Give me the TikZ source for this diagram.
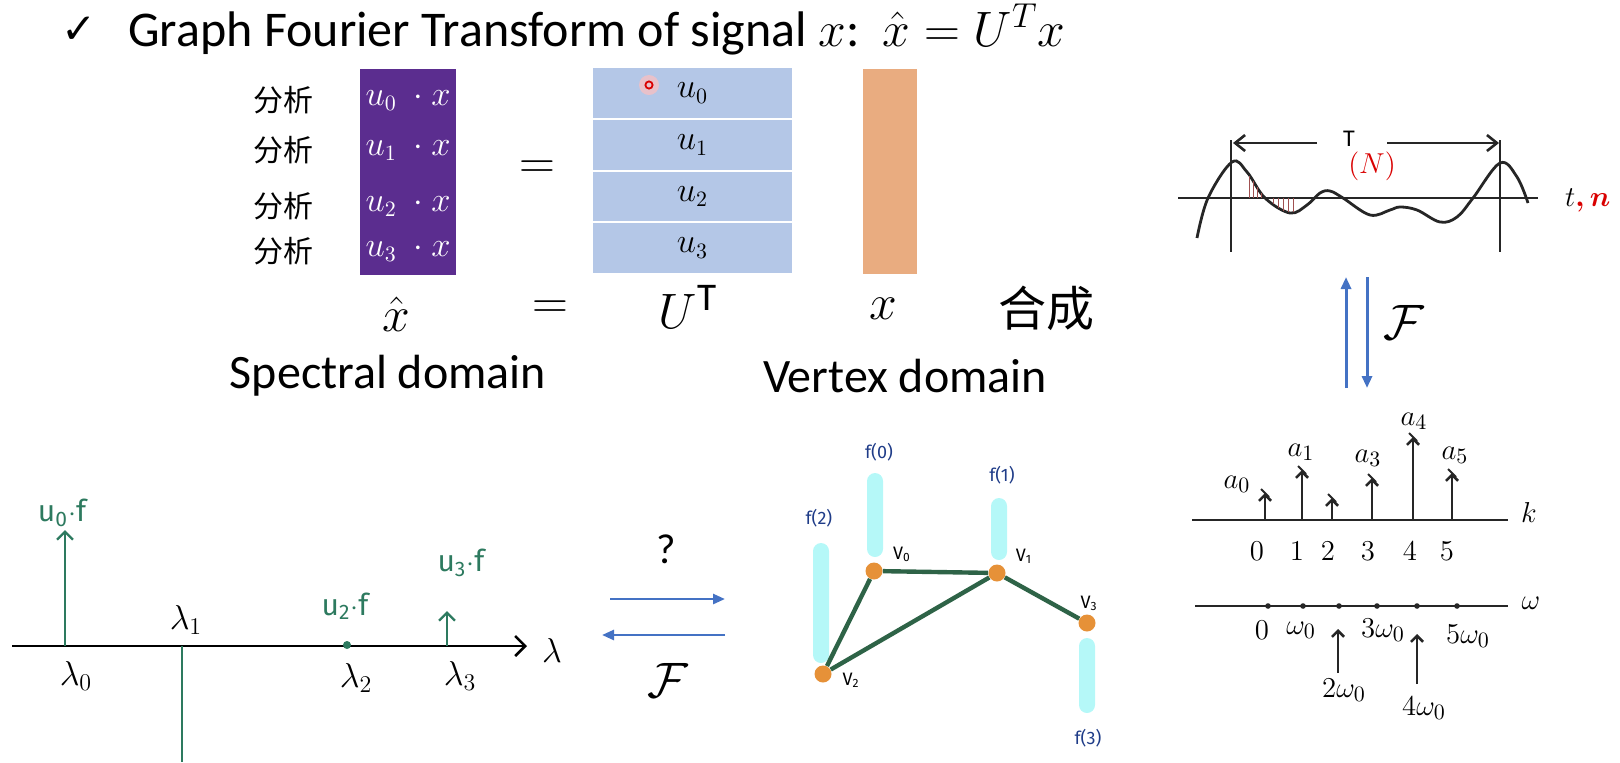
\documentclass[tikz,border=0pt]{standalone}
\usepackage{amsmath}
\usepackage{fontspec}
\setmainfont{Carlito}
\newfontfamily\cjk{Noto Sans CJK SC}
\newfontfamily\symfont{DejaVu Sans}
\newfontfamily\hand{Fira Sans}
\usepackage{xcolor}
\usetikzlibrary{arrows.meta,positioning}
\definecolor{xpurple}{HTML}{5B2D8F}
\definecolor{ublue}{HTML}{B4C7E7}
\definecolor{xorange}{HTML}{E9AC80}
\definecolor{fblue}{HTML}{4472C4}
\definecolor{ugreen}{HTML}{2D7A5F}
\definecolor{edgegreen}{HTML}{2E6347}
\definecolor{vorange}{HTML}{E69138}
\definecolor{barcyan}{HTML}{B5F8F8}
\definecolor{labnavy}{HTML}{1F3C88}
\definecolor{hatchred}{HTML}{A05050}

\begin{document}
\begin{tikzpicture}[x=0.5pt,y=-0.5pt,
      titletext/.style={font=\fontsize{25}{28}\selectfont, anchor=base west, inner sep=0pt},
      cjklab/.style={font=\cjk\fontsize{15}{18}\selectfont},
      bigsym/.style={font=\fontsize{28}{30}\selectfont, inner sep=0pt},
      domainlab/.style={font=\fontsize{24}{28}\selectfont},
      prow/.style={text=white, font=\fontsize{16}{18}\selectfont, inner sep=1pt},
      urow/.style={fill=ublue, draw=white, line width=1pt, inner sep=0pt,
                   minimum width=100.5pt, minimum height=25.9pt,
                   font=\fontsize{16}{18}\selectfont},
      wline/.style={line width=1.3pt, black!85},
      farr/.style={line width=1.5pt, fblue, -{Triangle[length=6pt,width=5pt]}},
      stem/.style={line width=1.3pt, black!85, -{Straight Barb[length=3pt,width=6pt]}},
      spec/.style={font=\fontsize{15}{18}\selectfont},
      gline/.style={line width=1.2pt, ugreen},
      glab/.style={font=\hand\fontsize{15}{17}\selectfont, text=ugreen},
      lam/.style={font=\fontsize{18}{20}\selectfont},
      vert/.style={circle, fill=vorange, inner sep=0pt, minimum size=8.5pt},
      edge/.style={line width=2.2pt, edgegreen},
      fbar/.style={fill=barcyan, rounded corners=4pt, minimum width=8pt, inner sep=0pt},
      flab/.style={font=\hand\fontsize{9}{10}\selectfont, text=labnavy},
      vlab/.style={font=\hand\fontsize{9}{10}\selectfont}
    ]
    \useasboundingbox (0,0) rectangle (1620,762);

    % Title
    \node[font=\symfont\fontsize{21}{24}\selectfont] (check) at (79,30) {✓};
    \node[titletext] (title) at (128,46) {Graph Fourier Transform of signal $x$:\, $\hat{x}=U^{T}x$};

    % Matrix product
    \node[fill=xpurple, minimum width=48pt, minimum height=103pt, inner sep=0pt] (xhatbox) at (408,172) {};
    \foreach \i/\yy in {0/100,1/150,2/206,3/251}{
      \node[cjklab] (ana\i) at (283,\yy) {分析};
      \node[prow] (p\i) at (408,\yy) {$u_{\i}\;\cdot x$};
    }
    \node[bigsym] (eqtop) at (537,170) {$=$};
    \foreach \i/\yy in {0/93,1/145,2/196.5,3/248}
      \node[urow] (u\i) at (692.5,\yy) {$u_{\i}$};
    \node[fill=xorange, minimum width=27pt, minimum height=102.5pt, inner sep=0pt] (xbox) at (890,171.5) {};

    % laser pointer
    \fill[red!25, opacity=0.7] (649,85) circle[radius=5pt];
    \draw[red!85!black, line width=0.9pt] (649,85) circle[radius=1.8pt];

    % Labels under the matrices
    \node[bigsym] (xhat) at (396,314) {$\hat{x}$};
    \node[bigsym] (eqbot) at (550,310) {$=$};
    \node[bigsym] (ut) at (688,307) {$U^{\mathrm{T}}$};
    \node[bigsym] (xsig) at (883,309) {$x$};
    \node[font=\cjk\fontsize{24}{28}\selectfont] (synth) at (1046,308) {合成};
    \node[domainlab] (spectral) at (388,376) {Spectral domain};
    \node[domainlab] (vertex) at (905,376) {Vertex domain};

    % Periodic signal
    \draw[wline] (1178,198) -- (1538,198);
    \draw[wline] (1231,140) -- (1231,252);
    \draw[wline] (1500,140) -- (1500,252);
    \coordinate (tl) at (1233,143);
    \coordinate (tr) at (1499,143);
    \draw[wline, -{Straight Barb[length=5pt,width=8pt]}] (1317,143) -- (tl);
    \draw[wline, -{Straight Barb[length=5pt,width=8pt]}] (1387,143) -- (tr);
    \node[font=\fontsize{12}{14}\selectfont] (per) at (1349,139) {T};
    \node[text=red!85!black, font=\fontsize{15}{16}\selectfont] (pern) at (1372,166) {$(N)$};
    \draw[wline, line width=1.4pt] plot[smooth, tension=0.6] coordinates {
      (1197,238) (1208,198) (1232,162) (1247,172) (1265,198) (1290,213)
      (1307,205) (1320,193) (1330,191) (1343,198) (1370,215) (1390,210)
      (1400,207) (1417,210) (1440,222) (1457,217) (1473,198) (1500,163)
      (1517,177) (1528,203)};
    \foreach \hx/\hy in {1249/176,1253/181,1257/187,1261/193,1273/204,1278/208,1283/211,1288/212,1293/212}
      \draw[hatchred, line width=0.4pt] (\hx,198) -- (\hx,\hy);
    \node[anchor=west, font=\fontsize{15}{18}\selectfont] (tn) at (1558,200) {$t${\color{red!85!black}$\boldsymbol{,n}$}};

    % Fourier arrows (right)
    \coordinate (fu0) at (1346,388);
    \coordinate (fu1) at (1346,277);
    \coordinate (fd0) at (1367,277);
    \coordinate (fd1) at (1367,388);
    \draw[farr] (fu0) -- (fu1);
    \draw[farr] (fd0) -- (fd1);
    \node[bigsym] (ftr) at (1404,322) {$\mathcal{F}$};

    % Line spectrum
    \draw[wline] (1192,520) -- (1508,520);
    \node[spec] (kax) at (1529,512) {$k$};
    \foreach \i/\sx/\st in {0/1265/493,1/1302/470,2/1332/498,3/1372/478,4/1413/437,5/1452/473}{
      \draw[stem] (\sx,520) -- (\sx,\st);
      \draw[line width=1pt, black!85] (\sx-4,\st-4) -- (\sx+4,\st+4);
    }
    \node[spec] (a0) at (1237,484) {$a_0$};
    \node[spec] (a1) at (1301,452) {$a_1$};
    \node[spec] (a3) at (1368,458) {$a_3$};
    \node[spec] (a4) at (1414,421) {$a_4$};
    \node[spec] (a5) at (1455,455) {$a_5$};
    \foreach \i/\nx in {0/1257,1/1297,2/1328,3/1368,4/1410,5/1447}
      \node[spec] (k\i) at (\nx,551) {$\i$};

    % Frequency axis
    \draw[wline] (1195,606) -- (1508,606);
    \foreach \dx in {1268,1303,1339,1377,1417,1457}
      \fill[black!85] (\dx,606) circle[radius=1.4pt];
    \node[spec] (wax) at (1531,603) {$\omega$};
    \node[spec] (w0) at (1262,630) {$0$};
    \node[spec] (w1) at (1301,630) {$\omega_0$};
    \node[spec] (w3) at (1383,630) {$3\omega_0$};
    \node[spec] (w5) at (1468,636) {$5\omega_0$};
    \node[spec] (w2) at (1344,690) {$2\omega_0$};
    \node[spec] (w4) at (1424,708) {$4\omega_0$};
    \coordinate (p2a) at (1338,673);
    \coordinate (p2b) at (1338,629);
    \coordinate (p4a) at (1417,684);
    \coordinate (p4b) at (1417,634);
    \draw[stem] (p2a) -- (p2b);
    \draw[stem] (p4a) -- (p4b);

    % Graph spectrum
    \coordinate (lamstart) at (12,646);
    \coordinate (lamend) at (527,646);
    \draw[line width=1.3pt, -{Straight Barb[length=5pt,width=10pt]}] (lamstart) -- (lamend);
    \node[lam] (lamax) at (552,650) {$\lambda$};
    \draw[gline, -{Straight Barb[length=4pt,width=8pt]}] (65,646) -- (65,530);
    \draw[gline] (182,646) -- (182,762);
    \fill[ugreen] (347,645) circle[radius=2pt];
    \draw[gline, -{Straight Barb[length=4pt,width=8pt]}] (447,646) -- (447,611);
    \node[glab] (c0) at (62,513) {u\textsubscript{0}$\cdot$f};
    \node[glab] (c2) at (345,606) {u\textsubscript{2}$\cdot$f};
    \node[glab] (c3) at (461,563) {u\textsubscript{3}$\cdot$f};
    \node[lam] (l0) at (76,676) {$\lambda_0$};
    \node[lam] (l1) at (186,620) {$\lambda_1$};
    \node[lam] (l2) at (356,678) {$\lambda_2$};
    \node[lam] (l3) at (460,676) {$\lambda_3$};

    % Transform arrows (middle)
    \node[font=\fontsize{21}{24}\selectfont] (quest) at (666,549) {?};
    \coordinate (ra0) at (610,599);
    \coordinate (ra1) at (725,599);
    \coordinate (la0) at (725,635);
    \coordinate (la1) at (602,635);
    \draw[farr, line width=1.3pt] (ra0) -- (ra1);
    \draw[farr, line width=1.3pt] (la0) -- (la1);
    \node[bigsym] (fmid) at (668,680) {$\mathcal{F}$};

    % Signal on graph
    \node[fbar, minimum height=42pt] (b0) at (875,515) {};
    \node[fbar, minimum height=31pt] (b1) at (999,529) {};
    \node[fbar, minimum height=60pt] (b2) at (821,603) {};
    \node[fbar, minimum height=37.5pt] (b3) at (1087,675.5) {};
    \node[vert] (v0) at (874,571) {};
    \node[vert] (v1) at (997,573) {};
    \node[vert] (v2) at (823,674) {};
    \node[vert] (v3) at (1087,623) {};
    \draw[edge] (v0) -- (v1);
    \draw[edge] (v0) -- (v2);
    \draw[edge] (v1) -- (v2);
    \draw[edge] (v1) -- (v3);
    \node[flab] (f0) at (879,452) {f(0)};
    \node[flab] (f1) at (1002,475) {f(1)};
    \node[flab] (f2) at (819,518) {f(2)};
    \node[flab] (f3) at (1088,738) {f(3)};
    \node[vlab] (n0) at (902,554) {V\textsubscript{0}};
    \node[vlab] (n1) at (1024,556) {V\textsubscript{1}};
    \node[vlab] (n2) at (851,680) {V\textsubscript{2}};
    \node[vlab] (n3) at (1089,603) {V\textsubscript{3}};

  \end{tikzpicture}
\end{document}
